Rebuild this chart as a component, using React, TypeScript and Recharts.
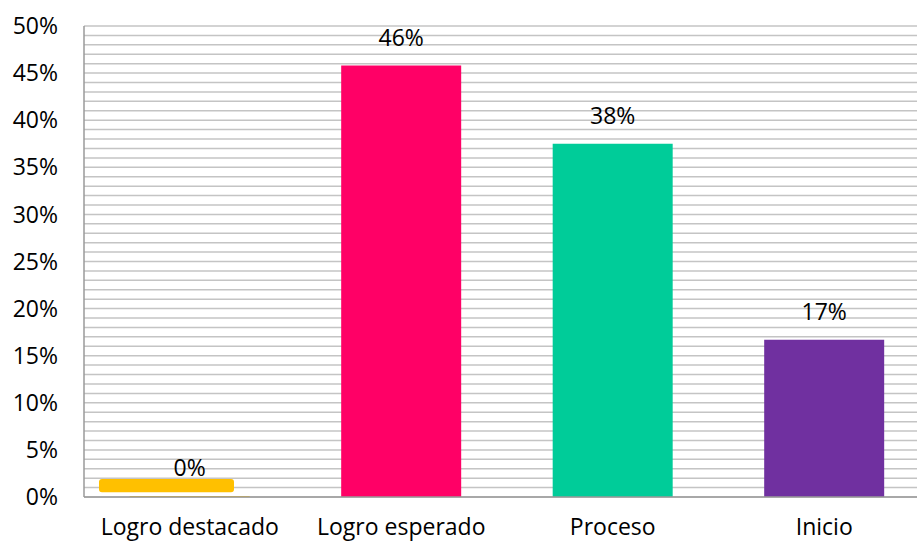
import React from "react";
import {
  BarChart,
  Bar,
  XAxis,
  YAxis,
  CartesianGrid,
  Cell,
  LabelList,
} from "recharts";

const categories = ["Logro destacado", "Logro esperado", "Proceso", "Inicio"];
const values = [0, 0.458, 0.375, 0.167];
const valueLabels = ["0%", "46%", "38%", "17%"];
const colors = ["#FFC000", "#FF0066", "#00CC99", "#7030A0"];
// small floating yellow marker drawn over the first category
const marker = [[0.005, 0.019], null, null, null];

const gridTicks = Array.from({ length: 51 }, (_, i) => i / 100);

const data = categories.map((c, i) => ({
  name: c,
  value: values[i],
  label: valueLabels[i],
  marker: marker[i],
}));

const font = "'Open Sans', 'Noto Sans', sans-serif";
const fs = 23;

export default function App() {
  return (
    <div
      style={{
        position: "absolute",
        left: 0,
        top: 0,
        width: 917,
        height: 544,
        overflow: "hidden",
        background: "#fff",
      }}
    >
      <BarChart
        width={930}
        height={544}
        data={data}
        margin={{ top: 26, right: 0, bottom: 0, left: 0 }}
        barCategoryGap="21.6%"
      >
        <CartesianGrid vertical={false} stroke="#c4c4c4" strokeWidth={1.5} />
        <XAxis
          dataKey="name"
          height={47}
          axisLine={{ stroke: "#9a9a9a", strokeWidth: 1.5 }}
          tickLine={false}
          tickSize={0}
          tickMargin={22}
          interval={0}
          tick={{ fill: "#000", fontSize: fs, fontFamily: font }}
        />
        <XAxis
          xAxisId="m"
          dataKey="name"
          hide
          padding={{ left: 0, right: 190 }}
        />
        <YAxis
          width={84}
          domain={[0, 0.5]}
          ticks={gridTicks}
          interval={0}
          axisLine={{ stroke: "#9a9a9a", strokeWidth: 1.5 }}
          tickLine={false}
          tickSize={0}
          tickMargin={26}
          tickFormatter={(v: number) =>
            Math.round(v * 100) % 5 === 0 ? `${Math.round(v * 100)}%` : ""
          }
          tick={{ fill: "#000", fontSize: fs, fontFamily: font }}
        />
        <Bar dataKey="value" minPointSize={1} isAnimationActive={false}>
          {data.map((d, i) => (
            <Cell key={d.name} fill={colors[i]} />
          ))}
          <LabelList
            dataKey="label"
            position="top"
            offset={20}
            fill="#000"
            fontSize={fs}
            fontFamily={font}
          />
        </Bar>
        <Bar
          dataKey="marker"
          xAxisId="m"
          barSize={135}
          radius={3}
          fill="#FFC000"
          isAnimationActive={false}
        />
      </BarChart>
    </div>
  );
}
